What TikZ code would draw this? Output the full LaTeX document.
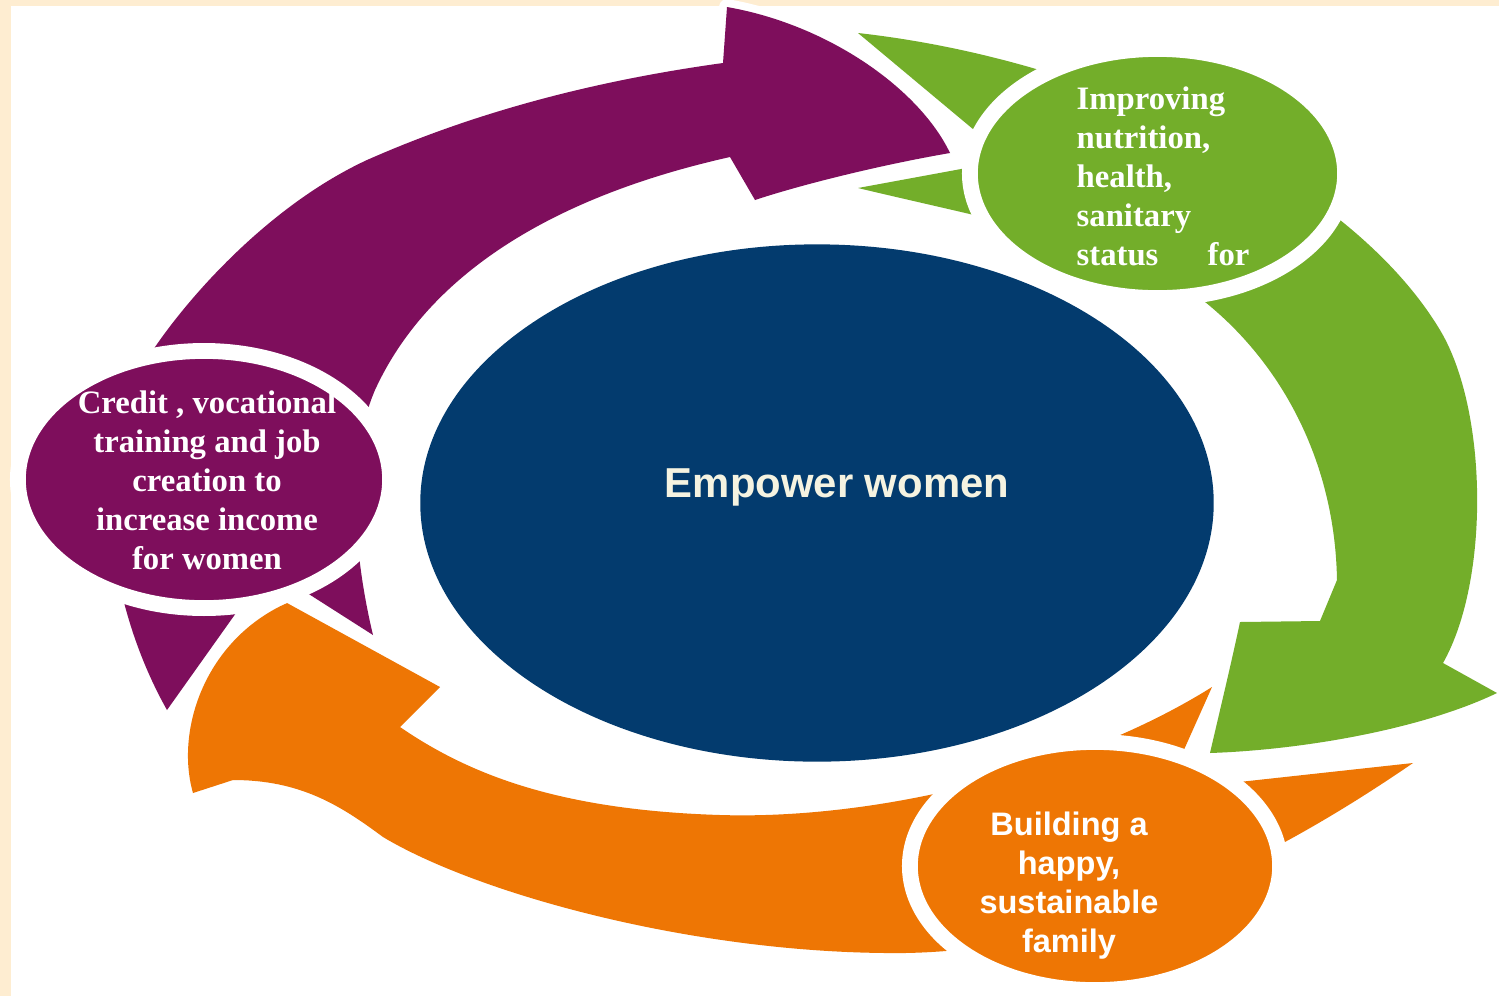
\documentclass[tikz,border=0pt]{standalone}
\usepackage{fontspec}
\setmainfont{Liberation Serif}
\setsansfont{Liberation Sans}
\usetikzlibrary{shapes.geometric}
\definecolor{cream}{RGB}{254,237,209}
\definecolor{plum}{RGB}{126,14,92}
\definecolor{leaf}{RGB}{115,174,42}
\definecolor{amber}{RGB}{238,118,4}
\definecolor{navy}{RGB}{3,59,110}
\definecolor{ivory}{RGB}{245,243,225}
\tikzset{
  band/.style={preaction={draw=white, line width=4.5pt, line join=round}},
  bubble/.style={ellipse, draw=white, line width=4.5pt, inner sep=0pt},
  seriftext/.style={text=white, inner sep=0pt, font=\fontsize{9.3}{11.1}\selectfont\bfseries},
  sanstext/.style={text=white, inner sep=0pt, font=\fontsize{9.25}{11.1}\selectfont\sffamily\bfseries}
}

\begin{document}
\begin{tikzpicture}[x=0.01cm,y=-0.01cm]
  \useasboundingbox (0,0) rectangle (1499,996);
  \fill[cream] (0,0) rectangle (1499,996);
  \fill[white] (11,6) rectangle (1499,996);

  \node[ellipse, fill=navy, inner sep=0pt, minimum width=7.93cm, minimum height=5.17cm] (core) at (817,503) {};

  \fill[plum, band] (167,710) .. controls (105,600) and (84,440) .. (153,350)
    .. controls (190,295) and (270,205) .. (367,160) .. controls (480,110) and (600,80) .. (723,63)
    -- (727,7) .. controls (830,25) and (920,90) .. (950,153)
    .. controls (880,165) and (800,185) .. (755,200) -- (730,157)
    .. controls (560,195) and (430,270) .. (375,390) .. controls (345,460) and (355,560) .. (373,635)
    -- (268,568) -- cycle;
  \fill[amber, band] (1413,763) .. controls (1250,875) and (1080,950) .. (905,953)
    .. controls (700,955) and (480,895) .. (383,837) .. controls (340,805) and (300,780) .. (233,780)
    -- (193,793) .. controls (175,730) and (205,640) .. (287,603) -- (440,687) -- (400,727)
    .. controls (470,775) and (560,810) .. (720,815) .. controls (880,820) and (1080,770) .. (1212,687)
    -- (1166,790) -- cycle;
  \fill[leaf, band] (858,33) .. controls (1100,60) and (1350,180) .. (1440,330)
    .. controls (1488,410) and (1490,580) .. (1443,663)
    -- (1497,693) .. controls (1420,730) and (1300,750) .. (1210,753)
    .. controls (1220,710) and (1232,660) .. (1240,622) -- (1320,621) -- (1337,580)
    .. controls (1335,460) and (1280,360) .. (1200,298) .. controls (1130,245) and (1000,222) .. (858,188)
    -- (1010,160) -- cycle;

  \node[bubble, fill=plum, minimum width=3.72cm, minimum height=2.57cm] (income) at (204,479.5) {};
  \node[bubble, fill=leaf, minimum width=3.75cm, minimum height=2.49cm] (health) at (1157.5,173.5) {};
  \node[bubble, fill=amber, minimum width=3.70cm, minimum height=2.48cm] (family) at (1095,866) {};

  \node[text=ivory, inner sep=0pt, font=\fontsize{11.9}{14}\selectfont\sffamily\bfseries] (empower) at (837,487) {Empower women};
  \node[seriftext, align=center] (incometext) at (207,480) {Credit , vocational\\training and job\\creation to\\increase income\\for women};
  \node[seriftext, align=left, anchor=west] (healthtext) at (1076,176) {Improving\\nutrition,\\health,\\sanitary\\status\hspace{14pt}for};
  \node[sanstext, align=center] (familytext) at (1069,886) {Building a\\happy,\\sustainable\\family};
\end{tikzpicture}
\end{document}
